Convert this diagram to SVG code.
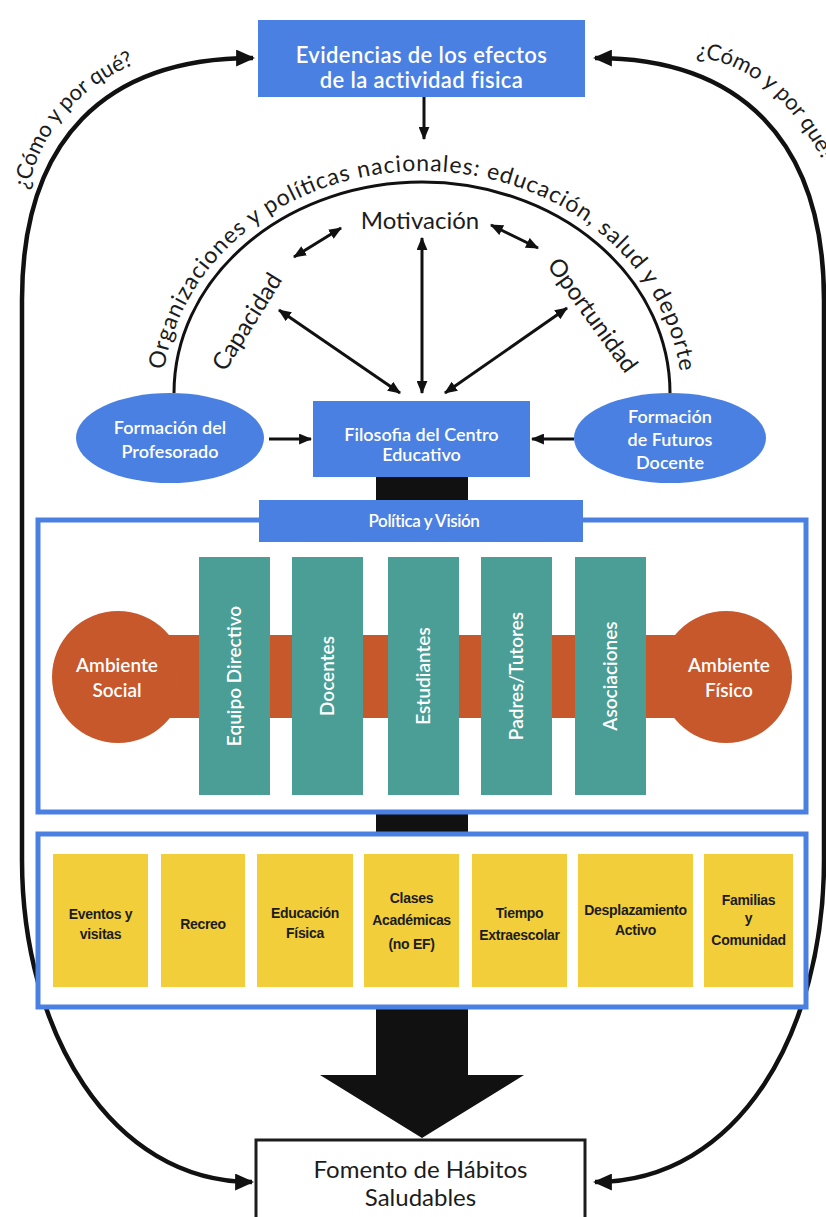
<svg xmlns="http://www.w3.org/2000/svg" width="826" height="1217" viewBox="0 0 826 1217">
<style>
  text{font-family:Lato,"Open Sans","Liberation Sans",sans-serif}
  .blue{fill:#4a80e2}
  .teal{fill:#4a9e96}
  .orange{fill:#c7582c}
  .yellow{fill:#f2cf3a}
  .frame{fill:#fff;stroke:#4a80e2;stroke-width:5}
  .wt{fill:#fff;text-anchor:middle}
  .wb{fill:#fff;text-anchor:middle;font-weight:600}
  .dk{fill:#1c1c1c;text-anchor:middle}
  .yt{fill:#1c1c1c;text-anchor:middle;font-family:"Liberation Sans",Arial,sans-serif;font-weight:bold;font-size:14px;letter-spacing:-0.3px}
  .ln{fill:none;stroke:#111;stroke-width:3}
  .big{fill:none;stroke:#111;stroke-width:4.5}
</style>
<defs>
  <marker id="a" viewBox="0 0 12 10" refX="11" refY="5" markerWidth="13" markerHeight="11" markerUnits="userSpaceOnUse" orient="auto-start-reverse">
    <path d="M0,0 L12,5 L0,10 z" fill="#111"/>
  </marker>
  <marker id="A" viewBox="0 0 18 16" refX="16" refY="8" markerWidth="19" markerHeight="17" markerUnits="userSpaceOnUse" orient="auto-start-reverse">
    <path d="M0,0 L18,8 L0,16 z" fill="#111"/>
  </marker>
  <path id="arcTextPath" d="M 162,400 A 260,229 0 0 1 682,400"/>
  <path id="leftQ" d="M 28,190 C 44,118 96,66 184,50"/>
  <path id="rightQ" d="M 696,57 C 758,65 808,110 850,222"/>
</defs>

<g id="big-arrow">
  <path d="M376,470 L468,470 L468,1075 L524,1075 L422,1138 L320,1075 L376,1075 Z" fill="#111"/>
</g>

<g id="connectors">
  <path class="big" d="M 253,58 C 105,58 22,140 22,300 L 22,860 C 22,1030 110,1182 252,1182" marker-start="url(#A)" marker-end="url(#A)"/>
  <path class="big" d="M 595,58 C 740,58 824,140 824,300 L 824,860 C 824,1030 740,1182 595,1182" marker-start="url(#A)" marker-end="url(#A)"/>
  <line class="ln" x1="424" y1="97" x2="424" y2="139" marker-end="url(#a)"/>
  <path class="ln" d="M 174,393 A 248,211 0 0 1 670,393"/>
  <line class="ln" x1="294" y1="257" x2="341" y2="228" marker-start="url(#a)" marker-end="url(#a)"/>
  <line class="ln" x1="491" y1="225" x2="538" y2="248" marker-start="url(#a)" marker-end="url(#a)"/>
  <line class="ln" x1="422" y1="393" x2="422" y2="238" marker-start="url(#a)" marker-end="url(#a)"/>
  <line class="ln" x1="400" y1="393" x2="279" y2="310" marker-start="url(#a)" marker-end="url(#a)"/>
  <line class="ln" x1="445" y1="393" x2="567" y2="308" marker-start="url(#a)" marker-end="url(#a)"/>
  <line class="ln" x1="269" y1="439" x2="311" y2="439" marker-end="url(#a)"/>
  <line class="ln" x1="574" y1="439" x2="532" y2="439" marker-end="url(#a)"/>
</g>

<g id="labels">
  <text font-size="22" fill="#1c1c1c"><textPath href="#leftQ">¿Cómo y por qué?</textPath></text>
  <text font-size="22" fill="#1c1c1c"><textPath href="#rightQ">¿Cómo y por qué?</textPath></text>
  <text font-size="23" fill="#1c1c1c"><textPath href="#arcTextPath" startOffset="30" textLength="710" lengthAdjust="spacing">Organizaciones y políticas nacionales: educación, salud y deporte</textPath></text>
  <text class="dk" x="420" y="229" font-size="24">Motivación</text>
  <text class="dk" x="254" y="326" font-size="24" transform="rotate(-58 254 326)">Capacidad</text>
  <text class="dk" x="586" y="320" font-size="24" transform="rotate(54 586 320)">Oportunidad</text>
</g>

<g id="evidencias">
  <rect class="blue" x="258" y="20" width="327" height="77"/>
  <text class="wb" x="421.5" y="63" font-size="22" letter-spacing="0.4">Evidencias de los efectos</text>
  <text class="wb" x="421.5" y="88" font-size="22" letter-spacing="0.4">de la actividad fisica</text>
</g>

<g id="formacion-profesorado">
  <ellipse class="blue" cx="170" cy="438" rx="94" ry="45"/>
  <text class="wb" x="170" y="434" font-size="18">Formación del</text>
  <text class="wb" x="170" y="458" font-size="18">Profesorado</text>
</g>

<g id="filosofia">
  <rect class="blue" x="313" y="401" width="217" height="76"/>
  <text class="wb" x="421.5" y="441" font-size="18">Filosofia del Centro</text>
  <text class="wb" x="421.5" y="461" font-size="18">Educativo</text>
</g>

<g id="formacion-futuros">
  <ellipse class="blue" cx="670" cy="438" rx="96" ry="45"/>
  <text class="wb" x="670" y="423" font-size="18">Formación</text>
  <text class="wb" x="670" y="446" font-size="18">de Futuros</text>
  <text class="wb" x="670" y="469" font-size="18">Docente</text>
</g>

<g id="frame-actores">
  <rect class="frame" x="38" y="520" width="768" height="292"/>
</g>

<g id="politica">
  <rect class="blue" x="259" y="500" width="324" height="42"/>
  <text class="wb" x="424" y="527" font-size="17" letter-spacing="-0.4">Política y Visión</text>
</g>

<g id="ambientes">
  <rect class="orange" x="118" y="635" width="608" height="83"/>
  <circle class="orange" cx="118" cy="677" r="66"/>
  <circle class="orange" cx="726" cy="677" r="66"/>
</g>
<g id="ambiente-social">
  <text class="wb" x="117" y="672" font-size="19">Ambiente</text>
  <text class="wb" x="117" y="697" font-size="19">Social</text>
</g>
<g id="ambiente-fisico">
  <text class="wb" x="729" y="672" font-size="19">Ambiente</text>
  <text class="wb" x="729" y="697" font-size="19">Físico</text>
</g>

<g id="equipo-directivo">
  <rect class="teal" x="199" y="557" width="71" height="238"/>
  <text class="wb" x="241" y="676" font-size="19" transform="rotate(-90 241 676)">Equipo Directivo</text>
</g>
<g id="docentes">
  <rect class="teal" x="292" y="557" width="71" height="238"/>
  <text class="wb" x="334" y="676" font-size="19" transform="rotate(-90 334 676)">Docentes</text>
</g>
<g id="estudiantes">
  <rect class="teal" x="388" y="557" width="71" height="238"/>
  <text class="wb" x="430" y="676" font-size="19" transform="rotate(-90 430 676)">Estudiantes</text>
</g>
<g id="padres">
  <rect class="teal" x="481" y="557" width="71" height="238"/>
  <text class="wb" x="523" y="676" font-size="19" transform="rotate(-90 523 676)">Padres/Tutores</text>
</g>
<g id="asociaciones">
  <rect class="teal" x="575" y="557" width="71" height="238"/>
  <text class="wb" x="617" y="676" font-size="19" transform="rotate(-90 617 676)">Asociaciones</text>
</g>

<g id="frame-espacios">
  <rect class="frame" x="38" y="834" width="768" height="173"/>
</g>

<g id="eventos">
  <rect class="yellow" x="53" y="854" width="95" height="133"/>
  <text class="yt" x="100.5" y="919">Eventos y</text>
  <text class="yt" x="100.5" y="939">visitas</text>
</g>
<g id="recreo">
  <rect class="yellow" x="161" y="854" width="84" height="133"/>
  <text class="yt" x="203" y="929">Recreo</text>
</g>
<g id="educacion-fisica">
  <rect class="yellow" x="257" y="854" width="96" height="133"/>
  <text class="yt" x="305" y="918">Educación</text>
  <text class="yt" x="305" y="938">Física</text>
</g>
<g id="clases">
  <rect class="yellow" x="364" y="854" width="95" height="133"/>
  <text class="yt" x="411.5" y="903">Clases</text>
  <text class="yt" x="411.5" y="925">Académicas</text>
  <text class="yt" x="411.5" y="949">(no EF)</text>
</g>
<g id="tiempo">
  <rect class="yellow" x="472" y="854" width="95" height="133"/>
  <text class="yt" x="519.5" y="918">Tiempo</text>
  <text class="yt" x="519.5" y="940">Extraescolar</text>
</g>
<g id="desplazamiento">
  <rect class="yellow" x="578" y="854" width="115" height="133"/>
  <text class="yt" x="635.5" y="915">Desplazamiento</text>
  <text class="yt" x="635.5" y="935">Activo</text>
</g>
<g id="familias">
  <rect class="yellow" x="704" y="854" width="89" height="133"/>
  <text class="yt" x="748.5" y="905">Familias</text>
  <text class="yt" x="748.5" y="923">y</text>
  <text class="yt" x="748.5" y="945">Comunidad</text>
</g>

<g id="fomento">
  <rect x="256" y="1140" width="329" height="84" fill="#fff" stroke="#1c1c1c" stroke-width="3"/>
  <text class="dk" x="420.5" y="1178" font-size="24">Fomento de Hábitos</text>
  <text class="dk" x="420.5" y="1206" font-size="24">Saludables</text>
</g>
</svg>
